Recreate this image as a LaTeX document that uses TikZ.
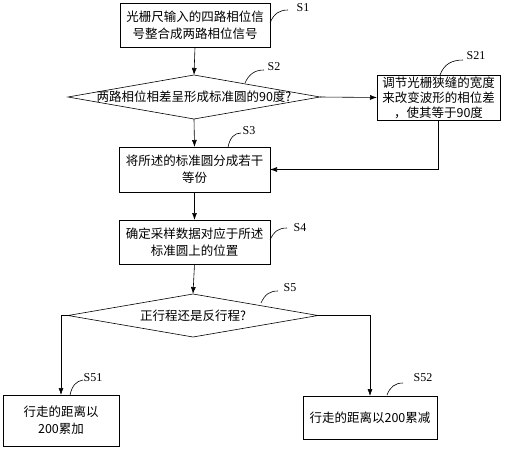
\documentclass[tikz,border=0pt]{standalone}
\usepackage{fontspec}
\newfontfamily\cjk{Noto Sans CJK SC}
\newfontfamily\lbl{Liberation Serif}
\usetikzlibrary{shapes.geometric,arrows.meta}
\tikzset{
  x=1pt,y=-1pt,
  every node/.style={inner sep=0pt, outer sep=0pt},
  procbox/.style={draw, line width=0.6pt, align=center, font=\cjk\fontsize{12.5}{17}\selectfont},
  decbox/.style={draw, line width=0.6pt, shape=diamond, shape aspect=5},
  dectext/.style={font=\cjk\fontsize{12.5}{17}\selectfont},
  flow/.style={line width=0.6pt, -{Latex[length=7pt,width=5pt]}},
  tag/.style={font=\lbl\fontsize{12}{14}\selectfont},
  tagline/.style={line width=0.6pt}
}
\begin{document}
\begin{tikzpicture}
\useasboundingbox (0,0) rectangle (508,450);
% process nodes
\node[procbox, minimum width=150pt, minimum height=44pt] (s1) at (195,25) {光栅尺输入的四路相位信\\号整合成两路相位信号};
\node[decbox, minimum width=252pt, minimum height=44pt] (s2) at (194,97) {};
\node[dectext] (s2t) at (s2) {两路相位相差呈形成标准圆的90度?};
\node[procbox, minimum width=123pt, minimum height=45pt, font=\cjk\fontsize{12.5}{15}\selectfont] (s21) at (438.5,97.5) {调节光栅狭缝的宽度\\来改变波形的相位差\\，使其等于90度};
\node[procbox, minimum width=151pt, minimum height=45pt] (s3) at (194.5,169.5) {将所述的标准圆分成若干\\等份};
\node[procbox, minimum width=151pt, minimum height=44pt] (s4) at (194.5,242) {确定采样数据对应于所述\\标准圆上的位置};
\node[decbox, minimum width=250pt, minimum height=43pt] (s5) at (193,315.5) {};
\node[dectext] (s5t) at (s5) {正行程还是反行程?};
\node[procbox, minimum width=116pt, minimum height=51pt] (s51) at (61,420.5) {行走的距离以\\200累加};
\node[procbox, minimum width=134pt, minimum height=43pt] (s52) at (370,417.5) {行走的距离以200累减};
% connectors
\draw[flow] (s1.south) -- (s2.north);
\draw[flow] (s2.east) -- (s21.west);
\draw[flow] (s2.south) -- (s3.north);
\draw[flow] (s21.south) |- (s3.east);
\draw[flow] (s3.south) -- (s4.north);
\draw[flow] (s4.south) -- (s5.north);
\draw[flow] (s5.west) -| (s51.north);
\draw[flow] (s5.east) -| (s52.north);
% step tags
\node[tag] (l1) at (303,8) {S1};
\node[tag] (l2) at (274,67) {S2};
\node[tag] (l21) at (476,56) {S21};
\node[tag] (l3) at (249,131) {S3};
\node[tag] (l4) at (300,228) {S4};
\node[tag] (l5) at (290,288) {S5};
\node[tag] (l51) at (93,378) {S51};
\node[tag] (l52) at (423,378) {S52};
\draw[tagline] (270,23) .. controls (274,13) and (280,10) .. (288,10);
\draw[tagline] (245,83) .. controls (249,74) and (255,70) .. (264,70);
\draw[tagline] (440,75) .. controls (444,64) and (452,60) .. (463,60);
\draw[tagline] (228,147) .. controls (230,138) and (234,133) .. (241,133);
\draw[tagline] (270,240) .. controls (274,231) and (279,228) .. (287,228);
\draw[tagline] (261,303) .. controls (265,294) and (270,291) .. (278,291);
\draw[tagline] (70,395) .. controls (72,386) and (76,381) .. (83,380);
\draw[tagline] (387,395) .. controls (390,387) and (395,383) .. (403,383);
\end{tikzpicture}
\end{document}
